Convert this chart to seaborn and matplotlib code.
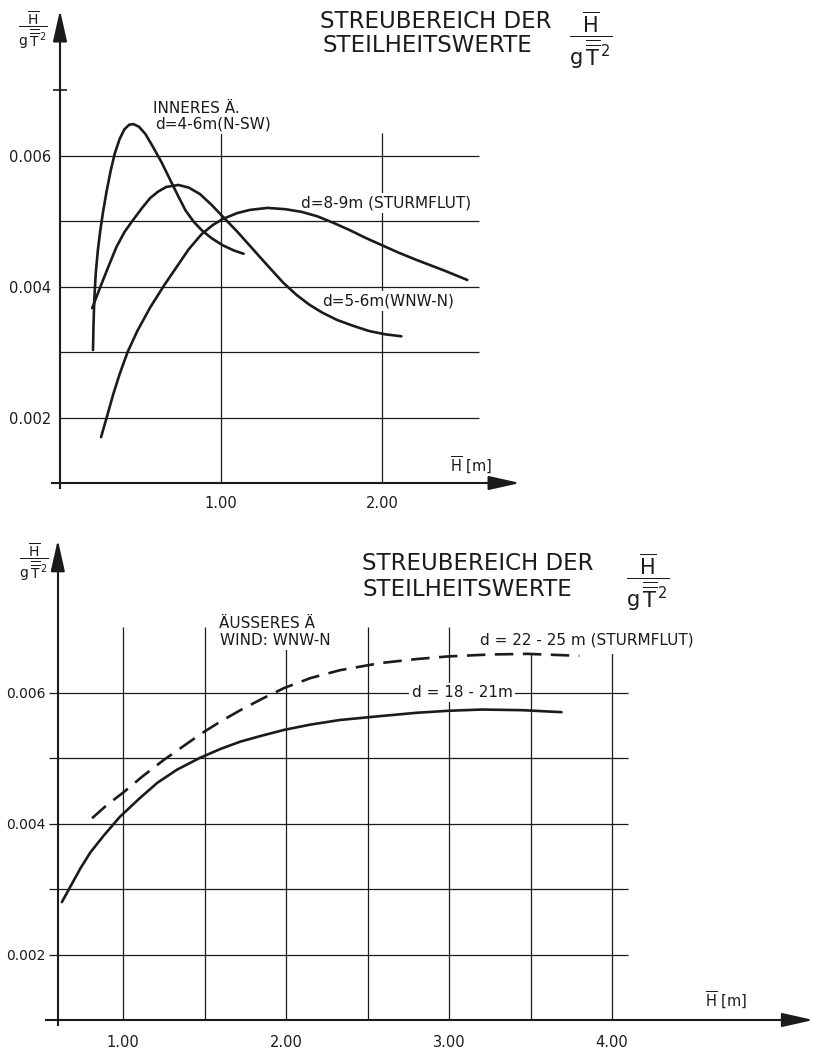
import numpy as np
import pandas as pd
import matplotlib
matplotlib.use("Agg")
import matplotlib.pyplot as plt
import seaborn as sns

# ---------------- data ----------------
# upper diagram: inner estuary (INNERES Ä.)
h_a = [0.205, 0.208, 0.213, 0.222, 0.235, 0.25, 0.268, 0.29, 0.315, 0.34,
       0.37, 0.40, 0.43, 0.455, 0.49, 0.53, 0.578, 0.63, 0.68, 0.73, 0.78,
       0.83, 0.88, 0.94, 1.01, 1.08, 1.14]
s_a = [0.00303, 0.0034, 0.0038, 0.0042, 0.00455, 0.00485, 0.00515, 0.00546,
       0.00577, 0.00603, 0.00625, 0.0064, 0.00647, 0.00648, 0.00644, 0.00633,
       0.00613, 0.0059, 0.00565, 0.0054, 0.00516, 0.00499, 0.00486, 0.00474,
       0.00463, 0.00455, 0.0045]

h_b = [0.20, 0.25, 0.30, 0.35, 0.40, 0.455, 0.51, 0.56, 0.61, 0.66, 0.735,
       0.80, 0.87, 0.94, 1.01, 1.10, 1.18, 1.26, 1.33, 1.39, 1.47, 1.55, 1.63,
       1.72, 1.82, 1.92, 2.02, 2.12]
s_b = [0.00367, 0.00399, 0.0043, 0.0046, 0.00483, 0.00502, 0.0052, 0.00535,
       0.00545, 0.00552, 0.00555, 0.00551, 0.00541, 0.00525, 0.00507, 0.00484,
       0.00462, 0.0044, 0.00421, 0.00405, 0.00387, 0.00372, 0.0036, 0.00349,
       0.0034, 0.00332, 0.00327, 0.00324]

h_c = [0.255, 0.29, 0.33, 0.37, 0.42, 0.48, 0.56, 0.65, 0.725, 0.80, 0.88,
       0.95, 1.01, 1.10, 1.18, 1.29, 1.40, 1.50, 1.60, 1.70, 1.80, 1.90, 2.00,
       2.10, 2.22, 2.38, 2.53]
s_c = [0.0017, 0.002, 0.00235, 0.00266, 0.003, 0.00332, 0.00368, 0.00403,
       0.0043, 0.00457, 0.0048, 0.00494, 0.00503, 0.00512, 0.00517, 0.0052,
       0.00518, 0.00514, 0.00507, 0.00497, 0.00486, 0.00474, 0.00463, 0.00452,
       0.0044, 0.00425, 0.0041]

# lower diagram: outer estuary (ÄUSSERES Ä), wind WNW-N
h_d = [0.625, 0.68, 0.74, 0.80, 0.88, 0.98, 1.10, 1.21, 1.33, 1.47, 1.60,
       1.72, 1.85, 1.99, 2.15, 2.33, 2.58, 2.80, 2.99, 3.20, 3.45, 3.69]
s_d = [0.0028, 0.00305, 0.00332, 0.00356, 0.00381, 0.0041, 0.00438, 0.00462,
       0.00482, 0.005, 0.00514, 0.00525, 0.00534, 0.00543, 0.00551, 0.00558,
       0.00564, 0.00569, 0.00572, 0.00574, 0.00573, 0.0057]

h_e = [0.81, 0.90, 1.00, 1.12, 1.25, 1.37, 1.485, 1.60, 1.72, 1.85, 1.99,
       2.15, 2.33, 2.58, 2.80, 2.99, 3.25, 3.48, 3.80]
s_e = [0.00408, 0.00428, 0.00447, 0.00472, 0.00497, 0.00518, 0.00538,
       0.00556, 0.00573, 0.0059, 0.00607, 0.00622, 0.00634, 0.00645, 0.00651,
       0.00655, 0.00658, 0.00659, 0.00656]

label_a = ["INNERES Ä.", "d=4-6m(N-SW)"]
label_b = "d=5-6m(WNW-N)"
label_c = "d=8-9m (STURMFLUT)"
label_d = "d = 18 - 21m"
label_e = "d = 22 - 25 m (STURMFLUT)"
label_outer = ["ÄUSSERES Ä", "WIND: WNW-N"]
title_lines = ["STREUBEREICH DER", "STEILHEITSWERTE"]

top_grid_y = [0.002, 0.003, 0.004, 0.005, 0.006]
top_grid_x = [1.0, 2.0]
top_xticks = [0.2, 0.4, 0.6, 0.8, 1.0, 1.2, 1.4, 1.6, 1.8, 2.0, 2.2, 2.4, 2.6]
top_xlabels = ["", "", "", "", "1.00", "", "", "", "", "2.00", "", "", ""]
yticks = [0.002, 0.004, 0.006]
ylabels = ["0.002", "0.004", "0.006"]

bot_grid_y = [0.002, 0.003, 0.004, 0.005, 0.006]
bot_grid_x = [1.0, 1.5, 2.0, 2.5, 3.0, 3.5, 4.0]
bot_xticks = [1.0, 1.5, 2.0, 2.5, 3.0, 3.5, 4.0]
bot_xlabels = ["1.00", "", "2.00", "", "3.00", "", "4.00"]

# ---------------- style ----------------
sns.set_theme(style="white")
plt.rcParams["font.family"] = ["DejaVu Sans"]
plt.rcParams["mathtext.fontset"] = "dejavusans"
plt.rcParams["mathtext.default"] = "regular"

INK = "#1b1b1b"
W, H = 819, 1049
fig = plt.figure(figsize=(W / 100, H / 100), dpi=100)
fig.patch.set_facecolor("white")

FRAC = r"$\dfrac{\overline{H}}{g\,\overline{\overline{T}}^{\,2}}$"


def make_axes(xlim, ylim, px, py):
    left = px(xlim[0]) / W
    right = px(xlim[1]) / W
    top = py(ylim[1])
    bottom = py(ylim[0])
    ax = fig.add_axes([left, 1 - bottom / H, right - left, (bottom - top) / H])
    ax.set_xlim(*xlim)
    ax.set_ylim(*ylim)
    ax.patch.set_visible(False)
    for side in ("top", "right"):
        ax.spines[side].set_visible(False)
    return ax


def axis_arrows(ax, x0, y0, x_end, y_end, x_head, y_head):
    ax.spines["bottom"].set_position(("data", y0))
    ax.spines["left"].set_position(("data", x0))
    for side in ("bottom", "left"):
        ax.spines[side].set_color(INK)
        ax.spines[side].set_linewidth(1.5)
    ax.spines["bottom"].set_bounds(ax.get_xlim()[0] + 0.01, x_end)
    ax.spines["left"].set_bounds(ax.get_ylim()[0] + 0.00003, y_end)
    style = "-|>,head_length=1.6,head_width=0.36"
    ax.annotate("", xy=(x_head, y0), xytext=(x_end - 0.02, y0),
                arrowprops=dict(arrowstyle=style, color=INK, lw=1.5,
                                shrinkA=0, shrinkB=0, mutation_scale=12))
    ax.annotate("", xy=(x0, y_head), xytext=(x0, y_end - 0.00005),
                arrowprops=dict(arrowstyle=style, color=INK, lw=1.5,
                                shrinkA=0, shrinkB=0, mutation_scale=12))


def curve(ax, xs, ys, dashed=False):
    df = pd.DataFrame({"H": xs, "S": ys})
    kw = dict(linestyle=(0, (7, 3.6))) if dashed else {}
    sns.lineplot(data=df, x="H", y="S", ax=ax, color=INK, lw=1.9,
                 sort=False, estimator=None, zorder=5,
                 solid_joinstyle="round", solid_capstyle="round", **kw)


def label(ax, x, y, s, size=11, ha="left", va="center", pad=0.15):
    ax.text(x, y, s, fontsize=size, color=INK, ha=ha, va=va, zorder=3,
            bbox=dict(boxstyle=f"square,pad={pad}", fc="white", ec="none"))


# ---------------- upper diagram ----------------
tpx = lambda x: 60 + 161 * x
tpy = lambda v: 483 - (v - 0.001) * 65500
ax1 = make_axes((-0.06, 2.9), (0.0009, 0.0083), tpx, tpy)

ax1.hlines(top_grid_y, 0.0, 2.6, color=INK, lw=0.9, zorder=1)
ax1.vlines(top_grid_x, 0.001, 0.00634, color=INK, lw=0.9, zorder=1)

curve(ax1, h_a, s_a)
curve(ax1, h_b, s_b)
curve(ax1, h_c, s_c)

axis_arrows(ax1, 0.0, 0.001, 2.76, 0.0079, 2.857, 0.00822)
ax1.set_xticks(top_xticks, top_xlabels)
ax1.set_yticks(yticks, ylabels)
ax1.set_yticks([0.007], minor=True)
ax1.tick_params(axis="x", which="major", direction="inout", length=8,
                width=1.2, color=INK, labelsize=10.5, labelcolor=INK, pad=5)
ax1.tick_params(axis="y", which="major", direction="out", length=5,
                width=1.2, color=INK, labelsize=10.5, labelcolor=INK, pad=1.5)
ax1.tick_params(axis="y", which="minor", direction="inout", length=10,
                width=1.2, color=INK, left=True)
ax1.set_xlabel("")
ax1.set_ylabel("")

label(ax1, 0.578, 0.006725, label_a[0], size=11)
label(ax1, 0.59, 0.00648, label_a[1], size=11)
label(ax1, 1.497, 0.005275, label_c, size=11)
label(ax1, 1.627, 0.003779, label_b, size=11)
ax1.text(2.42, 0.00126, r"$\overline{H}$ [m]", fontsize=10.5, color=INK,
         ha="left", va="center")

fig.text(320 / W, 1 - 22 / H, title_lines[0], fontsize=16.5, color=INK,
         ha="left", va="center")
fig.text(322 / W, 1 - 45 / H, title_lines[1], fontsize=16.5, color=INK,
         ha="left", va="center")
fig.text(591 / W, 1 - 40 / H, FRAC, fontsize=15, color=INK,
         ha="center", va="center")
fig.text(33 / W, 1 - 30 / H, FRAC, fontsize=10, color=INK,
         ha="center", va="center")

# ---------------- lower diagram ----------------
bpx = lambda x: -40 + 163 * x
bpy = lambda v: 1020 - (v - 0.001) * 65500
ax2 = make_axes((0.52, 5.25), (0.0009, 0.0084), bpx, bpy)

ax2.hlines(bot_grid_y, 0.545, 4.1, color=INK, lw=0.9, zorder=1)
ax2.vlines(bot_grid_x, 0.001, 0.007, color=INK, lw=0.9, zorder=1)

curve(ax2, h_d, s_d)
curve(ax2, h_e, s_e, dashed=True)

axis_arrows(ax2, 0.6, 0.001, 5.1, 0.0081, 5.235, 0.00833)
ax2.set_xticks(bot_xticks, bot_xlabels)
ax2.set_yticks(yticks, ylabels)
ax2.tick_params(axis="x", direction="out", length=5, width=1.0, color=INK,
                labelsize=10.5, labelcolor=INK, pad=6)
ax2.tick_params(axis="y", direction="out", length=0, color=INK,
                labelsize=10, labelcolor=INK, pad=9)
ax2.set_xlabel("")
ax2.set_ylabel("")

label(ax2, 1.589, 0.007046, label_outer[0], size=11)
label(ax2, 1.595, 0.0068, label_outer[1], size=11)
label(ax2, 3.19, 0.0068, label_e, size=11, pad=0.45)
label(ax2, 3.08, 0.006, label_d, size=11, ha="center")
ax2.text(4.57, 0.0013, r"$\overline{H}$ [m]", fontsize=10.5, color=INK,
         ha="left", va="center")

fig.text(362 / W, 1 - 563 / H, title_lines[0], fontsize=16.5, color=INK,
         ha="left", va="center")
fig.text(363 / W, 1 - 590 / H, title_lines[1], fontsize=16.5, color=INK,
         ha="left", va="center")
fig.text(648 / W, 1 - 582 / H, FRAC, fontsize=15, color=INK,
         ha="center", va="center")
fig.text(34 / W, 1 - 562 / H, FRAC, fontsize=10, color=INK,
         ha="center", va="center")

fig.savefig("out.png", dpi=100, facecolor="white")
